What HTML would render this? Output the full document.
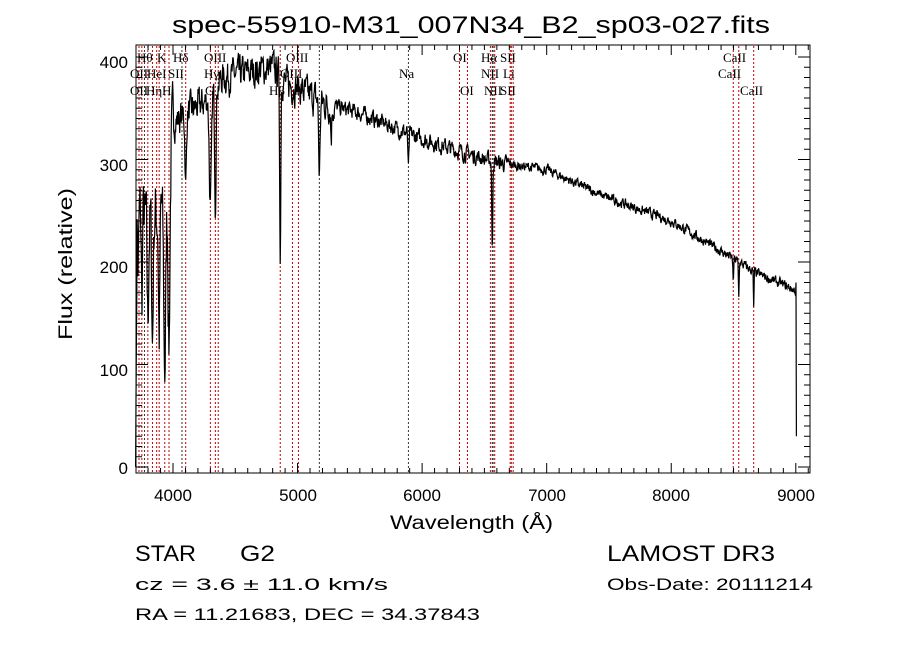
<!DOCTYPE html>
<html><head><meta charset="utf-8"><style>
html,body{margin:0;padding:0;background:#fff;}
svg{display:block;font-family:"Liberation Sans",sans-serif;}
.s{font-family:"Liberation Serif",serif;font-size:13px;}
</style></head><body>
<svg id="c" width="900" height="649" viewBox="0 0 900 649" xmlns="http://www.w3.org/2000/svg" xml:space="preserve">
<rect width="900" height="649" fill="#fff"/>
<text x="172" y="33" font-size="24" textLength="598" lengthAdjust="spacingAndGlyphs">spec-55910-M31_007N34_B2_sp03-027.fits</text>
<g id="lines"></g>
<path id="spec" fill="none" stroke="#000" stroke-width="1.2"/>
<rect x="136" y="45" width="674" height="428" fill="none" stroke="#000" stroke-width="1"/>
<g id="ticks" stroke="#000" stroke-width="1"></g>
<g font-size="17">
<text x="173" y="501" text-anchor="middle">4000</text>
<text x="298" y="501" text-anchor="middle">5000</text>
<text x="422" y="501" text-anchor="middle">6000</text>
<text x="547" y="501" text-anchor="middle">7000</text>
<text x="671" y="501" text-anchor="middle">8000</text>
<text x="796" y="501" text-anchor="middle">9000</text>
<text x="128" y="474" text-anchor="end">0</text>
<text x="128" y="376" text-anchor="end">100</text>
<text x="128" y="273" text-anchor="end">200</text>
<text x="128" y="171" text-anchor="end">300</text>
<text x="128" y="68" text-anchor="end">400</text>
<text x="390" y="529" textLength="163" lengthAdjust="spacingAndGlyphs" font-size="19">Wavelength (Å)</text>
<text transform="translate(72,340) rotate(-90)" textLength="152" lengthAdjust="spacingAndGlyphs" font-size="19">Flux (relative)</text>
</g>
<g font-size="22">
<text x="135" y="561" textLength="61" lengthAdjust="spacingAndGlyphs">STAR</text><text x="240" y="561" textLength="35" lengthAdjust="spacingAndGlyphs">G2</text>
<text x="607" y="561" textLength="168" lengthAdjust="spacingAndGlyphs">LAMOST DR3</text>
</g>
<g font-size="17">
<text x="135" y="590" textLength="253" lengthAdjust="spacingAndGlyphs">cz = 3.6 ± 11.0 km/s</text>
<text x="607" y="590" textLength="206" lengthAdjust="spacingAndGlyphs">Obs-Date: 20111214</text>
<text x="135" y="620" textLength="345" lengthAdjust="spacingAndGlyphs">RA =  11.21683, DEC =  34.37843</text>
</g>
<g id="labs" class="s"></g>
</svg>
<script>
var NS="http://www.w3.org/2000/svg";
function X(l){return 173+(l-4000)*0.12456;}
function Y(f){return 467-f*1.025;}
function el(p,t,a,txt){var e=document.createElementNS(NS,t);for(var k in a)e.setAttribute(k,a[k]);if(txt)e.textContent=txt;p.appendChild(e);return e;}
var T=document.getElementById('ticks');
for(var l=3800;l<=9100;l+=100){var x=X(l);var big=l%1000==0;el(T,'line',{x1:x,x2:x,y1:473,y2:473-(big?10:5)});el(T,'line',{x1:x,x2:x,y1:45,y2:45+(big?10:5)});}
for(var f=0;f<=400;f+=10){var y=Y(f);var big=f%100==0;el(T,'line',{x1:136,x2:136+(big?12:6),y1:y,y2:y});el(T,'line',{x1:810,x2:810-(big?12:6),y1:y,y2:y});}
var L=document.getElementById('lines');
var red=[3727,3750,3798,3835,3869,3889,3934,3968,4102,4300,4340,4363,4861,4959,5007,6300,6364,6548,6583,6707,6716,6731,8498,8542,8662];
var gray=[3771,4072,5175,5890,6563,6570];
red.forEach(function(l){var x=X(l);el(L,'line',{x1:x,x2:x,y1:46,y2:472,stroke:'#c00000','stroke-dasharray':'2,2'});});
gray.forEach(function(l){var x=X(l);el(L,'line',{x1:x,x2:x,y1:46,y2:472,stroke:'#333','stroke-dasharray':'2,2'});});
var G=document.getElementById('labs');
[[137,62,"Hθ"],[157,62,"K"],[173,62,"Hδ"],[204,62,"OIII"],[286,62,"OIII"],[453,62,"OI"],[481,62,"Hα"],[500,62,"SII"],[723,62,"CaII"],
[130,78,"OII"],[147,78,"HeI"],[168,78,"SII"],[204,78,"Hγ"],[280,78,"OIII"],[399,78,"Na"],[481,78,"NII"],[503,78,"Li"],[718,78,"CaII"],
[130,95,"OII"],[146,95,"Hη"],[162,95,"H"],[205,95,"G"],[269,95,"Hβ"],[460,95,"OI"],[484,95,"NII"],[500,95,"SII"],[740,95,"CaII"]].forEach(function(a){el(G,'text',{x:a[0],y:a[1]},a[2]);});
var seed=7;function r(){seed=(seed*16807)%2147483647;return seed/2147483647-0.5;}
var K=[[3700,250],[3800,240],[3900,250],[3960,280],[4000,335],[4100,345],[4250,355],[4400,380],[4600,385],[4800,390],[4900,375],[5000,370],[5200,355],[5500,345],[6000,320],[6300,308],[6600,297],[7000,290],[7500,262],[8000,240],[8500,203],[8700,188],[8950,175],[9000,172]];
function cont(l){for(var i=0;i<K.length-1;i++){if(l<=K[i+1][0]){var t=(l-K[i][0])/(K[i+1][0]-K[i][0]);return K[i][1]+t*(K[i+1][1]-K[i][1]);}}return 170;}
var dips=[[3934,170,12],[3968,170,10],[3835,120,8],[3798,100,8],[3889,120,8],[4102,70,8],[4300,110,12],[4340,110,8],[4861,180,6],[5175,70,8],[5270,30,6],[5890,35,6],[6563,90,5],[8498,25,4],[8542,35,4],[8662,35,4],[3750,80,6],[3720,60,6]];
var d='';var w=0;
for(var l=3700;l<=9000;l+=3){var f=cont(l);var nz=l<4000?60:(l<5300?26:(l<6700?13:8));w=0.5*w+r()*nz;f+=w;
dips.forEach(function(q){var z=(l-q[0])/q[2];f-=q[1]*Math.exp(-z*z);});
if(l<3712)f=f*(l-3700)/12;
d+=(d?'L':'M')+X(l).toFixed(1)+','+Y(Math.max(f,0)).toFixed(1);}
d+='L'+X(9002).toFixed(1)+','+Y(180)+'L'+X(9005).toFixed(1)+','+Y(30);
document.getElementById('spec').setAttribute('d',d);
</script>
</body></html>
